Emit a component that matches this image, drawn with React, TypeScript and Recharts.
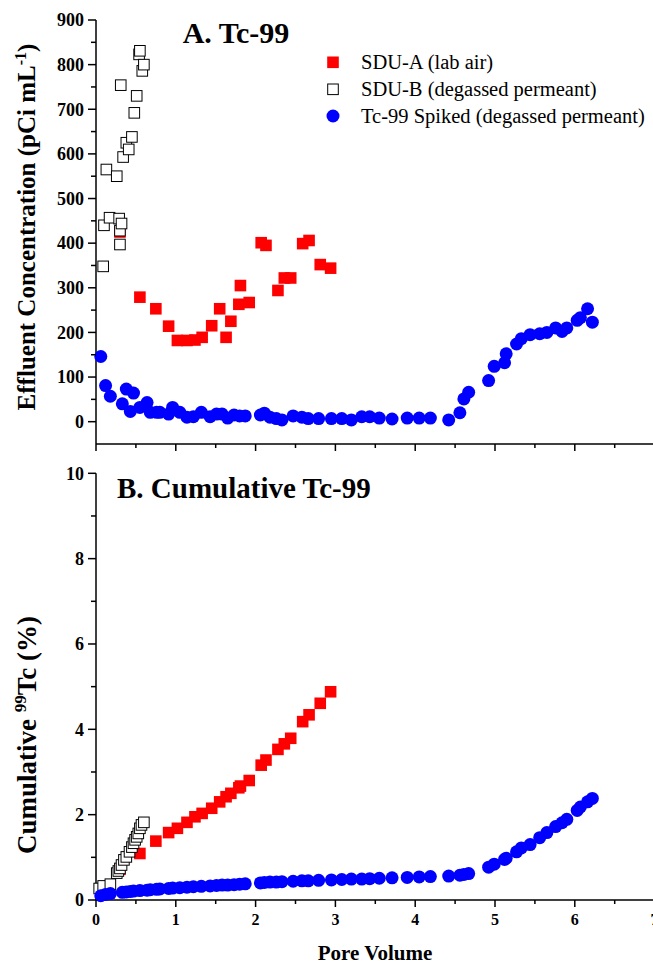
import React from 'react';
import { ScatterChart, Scatter, XAxis, YAxis } from 'recharts';

// ---------- tick values ----------
const xTicks = [0, 0.5, 1, 1.5, 2, 2.5, 3, 3.5, 4, 4.5, 5, 5.5, 6, 6.5, 7];
const concTicks = [0, 50, 100, 150, 200, 250, 300, 350, 400, 450, 500, 550, 600, 650, 700, 750, 800, 850, 900];
const cumTicks = [0, 1, 2, 3, 4, 5, 6, 7, 8, 9, 10];

// ---------- series names ----------
const seriesNames = ['SDU-A (lab air)', 'SDU-B (degassed permeant)', 'Tc-99 Spiked (degassed permeant)'];

// ---------- SDU-A (lab air) ----------
const sduAX = [0.30, 0.55, 0.75, 0.91, 1.02, 1.14, 1.24, 1.33, 1.45, 1.55, 1.63, 1.69, 1.79, 1.81, 1.92, 2.07, 2.13, 2.28, 2.36, 2.44, 2.59, 2.67, 2.81, 2.94];
const sduAConc = [425, 279, 253, 214, 182, 182, 183, 189, 215, 253, 189, 225, 263, 305, 267, 401, 395, 294, 322, 322, 399, 406, 352, 344];
const sduACum = [0.72, 1.09, 1.38, 1.58, 1.68, 1.82, 1.95, 2.03, 2.15, 2.30, 2.42, 2.50, 2.63, 2.67, 2.80, 3.16, 3.28, 3.53, 3.66, 3.79, 4.18, 4.34, 4.61, 4.88];

// ---------- SDU-B (degassed permeant) ----------
const sduBConcX = [0.09, 0.10, 0.13, 0.17, 0.26, 0.29, 0.30, 0.30, 0.31, 0.32, 0.34, 0.38, 0.41, 0.45, 0.48, 0.51, 0.54, 0.55, 0.58, 0.60];
const sduBConc = [348, 440, 565, 457, 550, 455, 397, 428, 754, 444, 593, 625, 610, 638, 692, 730, 823, 831, 786, 800];
const sduBCumX = [0.04, 0.09, 0.18, 0.26, 0.28, 0.30, 0.32, 0.35, 0.38, 0.42, 0.45, 0.47, 0.49, 0.51, 0.53, 0.55, 0.57, 0.60];
const sduBCum = [0.27, 0.33, 0.37, 0.63, 0.68, 0.74, 0.82, 0.94, 1.01, 1.13, 1.24, 1.33, 1.41, 1.48, 1.56, 1.68, 1.76, 1.82];

// ---------- Tc-99 Spiked (degassed permeant) ----------
const tcX = [0.06, 0.12, 0.18, 0.33, 0.38, 0.43, 0.47, 0.55, 0.64, 0.68, 0.76, 0.80, 0.91, 0.96, 1.05, 1.14, 1.22, 1.32, 1.43, 1.51, 1.58, 1.65, 1.73, 1.80, 1.87, 2.06, 2.11, 2.18, 2.26, 2.33, 2.47, 2.58, 2.66, 2.79, 2.95, 3.08, 3.20, 3.33, 3.43, 3.55, 3.71, 3.90, 4.05, 4.19, 4.42, 4.56, 4.61, 4.67, 4.92, 4.99, 5.12, 5.14, 5.27, 5.33, 5.44, 5.56, 5.65, 5.76, 5.84, 5.90, 6.03, 6.07, 6.16, 6.22];
const tcConc = [146, 81, 57, 40, 73, 23, 64, 32, 43, 21, 21, 21, 17, 32, 21, 10, 11, 21, 11, 17, 17, 8, 15, 13, 13, 15, 19, 10, 7, 4, 13, 10, 7, 7, 7, 7, 4, 11, 11, 8, 6, 8, 8, 8, 4, 20, 51, 66, 92, 124, 132, 152, 174, 186, 195, 197, 200, 210, 202, 210, 227, 233, 253, 223];
const tcCum = [0.10, 0.13, 0.15, 0.18, 0.19, 0.20, 0.21, 0.22, 0.23, 0.24, 0.25, 0.26, 0.27, 0.28, 0.29, 0.30, 0.31, 0.32, 0.33, 0.34, 0.35, 0.35, 0.36, 0.37, 0.38, 0.40, 0.41, 0.42, 0.42, 0.43, 0.44, 0.45, 0.45, 0.46, 0.47, 0.48, 0.49, 0.49, 0.50, 0.51, 0.52, 0.53, 0.54, 0.55, 0.56, 0.58, 0.60, 0.62, 0.77, 0.84, 0.95, 0.98, 1.13, 1.22, 1.30, 1.46, 1.58, 1.72, 1.81, 1.89, 2.10, 2.18, 2.30, 2.38];

const zip = (xs: number[], ys: number[]) => xs.map((x, i) => ({ x, y: ys[i] }));

const sduAConcData = zip(sduAX, sduAConc);
const sduACumData = zip(sduAX, sduACum);
const sduBConcData = zip(sduBConcX, sduBConc);
const sduBCumData = zip(sduBCumX, sduBCum);
const tcConcData = zip(tcX, tcConc);
const tcCumData = zip(tcX, tcCum);

const FONT = '"Liberation Serif", "Times New Roman", serif';
const RED = '#ff0000';
const BLUE = '#0000ff';

// ---------- marker shapes ----------
const RedSquare = (p: any) => (
  <rect x={p.cx - 5.8} y={p.cy - 5.8} width={11.6} height={11.6} fill={RED} />
);
const OpenSquare = (p: any) => (
  <rect x={p.cx - 5.3} y={p.cy - 5.3} width={10.6} height={10.6} fill="#fff" stroke="#000" strokeWidth={1} />
);
const BlueCircle = (p: any) => <circle cx={p.cx} cy={p.cy} r={6.5} fill={BLUE} />;

// ---------- ticks ----------
const XTick = (p: any) => {
  const v = p.payload.value;
  const major = Math.abs(v - Math.round(v)) < 1e-6;
  return (
    <g>
      <line x1={p.x} y1={p.y} x2={p.x} y2={p.y + (major ? 7 : 4)} stroke="#000" strokeWidth={1.5} />
      {p.showLabel && major ? (
        <text x={p.x} y={p.y + 25} textAnchor="middle" fontFamily={FONT} fontWeight="bold" fontSize={16} fill="#000">
          {v}
        </text>
      ) : null}
    </g>
  );
};

const YTick = (p: any) => {
  const v = p.payload.value;
  const major = Math.abs(v / p.step - Math.round(v / p.step)) < 1e-6;
  return (
    <g>
      <line x1={p.x - (major ? 8 : 5)} y1={p.y} x2={p.x} y2={p.y} stroke="#000" strokeWidth={1.5} />
      {major ? (
        <text x={p.x - 12} y={p.y} dy="0.35em" textAnchor="end" fontFamily={FONT} fontWeight="bold" fontSize={18} fill="#000">
          {v}
        </text>
      ) : null}
    </g>
  );
};

const axisLine = { stroke: '#000', strokeWidth: 1.5 };

export default function App() {
  return (
    <div style={{ position: 'absolute', left: 0, top: 0, width: 653, height: 964, overflow: 'hidden', background: '#fff' }}>
      {/* Panel A */}
      <div style={{ position: 'absolute', left: 0, top: 0 }}>
        <ScatterChart width={660} height={460} margin={{ top: 20, right: 5.4, left: 0, bottom: 0 }}>
          <XAxis
            type="number"
            dataKey="x"
            domain={[0, 7]}
            ticks={xTicks}
            interval={0}
            tickSize={0}
            tickMargin={0}
            tickLine={false}
            axisLine={axisLine}
            height={16}
            tick={(p: any) => <XTick {...p} showLabel={false} />}
          />
          <YAxis
            type="number"
            dataKey="y"
            domain={[-50, 900]}
            ticks={concTicks}
            interval={0}
            tickSize={0}
            tickMargin={0}
            tickLine={false}
            axisLine={axisLine}
            width={96}
            tick={(p: any) => <YTick {...p} step={100} />}
          />
          <Scatter name={seriesNames[0]} data={sduAConcData} shape={RedSquare} isAnimationActive={false} />
          <Scatter name={seriesNames[1]} data={sduBConcData} shape={OpenSquare} isAnimationActive={false} />
          <Scatter name={seriesNames[2]} data={tcConcData} shape={BlueCircle} isAnimationActive={false} />
        </ScatterChart>
      </div>

      {/* Panel B */}
      <div style={{ position: 'absolute', left: 0, top: 460 }}>
        <ScatterChart width={660} height={504} margin={{ top: 13.3, right: 5.4, left: 0, bottom: 0 }}>
          <XAxis
            type="number"
            dataKey="x"
            domain={[0, 7]}
            ticks={xTicks}
            interval={0}
            tickSize={0}
            tickMargin={0}
            tickLine={false}
            axisLine={axisLine}
            height={64}
            tick={(p: any) => <XTick {...p} showLabel={true} />}
          />
          <YAxis
            type="number"
            dataKey="y"
            domain={[0, 10]}
            ticks={cumTicks}
            interval={0}
            tickSize={0}
            tickMargin={0}
            tickLine={false}
            axisLine={axisLine}
            width={96}
            tick={(p: any) => <YTick {...p} step={2} />}
          />
          <Scatter name={seriesNames[0]} data={sduACumData} shape={RedSquare} isAnimationActive={false} />
          <Scatter name={seriesNames[1]} data={sduBCumData} shape={OpenSquare} isAnimationActive={false} />
          <Scatter name={seriesNames[2]} data={tcCumData} shape={BlueCircle} isAnimationActive={false} />
        </ScatterChart>
      </div>

      {/* Text overlay: titles, axis labels, legend */}
      <svg width={653} height={964} style={{ position: 'absolute', left: 0, top: 0, pointerEvents: 'none' }} fontFamily={FONT}>
        <text x={236} y={43} textAnchor="middle" fontWeight="bold" fontSize={30} fill="#000">A. Tc-99</text>
        <text x={117} y={498} textAnchor="start" fontWeight="bold" fontSize={29} fill="#000">B. Cumulative Tc-99</text>

        <text transform="translate(35,227) rotate(-90)" textAnchor="middle" fontWeight="bold" fontSize={25} fill="#000">
          Effluent Concentration (pCi mL<tspan dy={-9} fontSize={16}>-1</tspan><tspan dy={9}>)</tspan>
        </text>
        <text transform="translate(36,735) rotate(-90)" textAnchor="middle" fontWeight="bold" fontSize={27} fill="#000">
          Cumulative <tspan dy={-10} fontSize={17}>99</tspan><tspan dy={10}>Tc (%)</tspan>
        </text>
        <text x={375} y={960} textAnchor="middle" fontWeight="bold" fontSize={21} fill="#000">Pore Volume</text>

        {/* legend */}
        <rect x={327.2} y={56.5} width={11.6} height={11.6} fill={RED} />
        <text x={361} y={69} fontSize={20.5} fill="#000">{seriesNames[0]}</text>
        <rect x={327.7} y={84} width={10.6} height={10.6} fill="#fff" stroke="#000" strokeWidth={1} />
        <text x={361} y={96} fontSize={20.5} fill="#000">{seriesNames[1]}</text>
        <circle cx={333} cy={116} r={6.5} fill={BLUE} />
        <text x={361} y={123} fontSize={20.5} fill="#000">{seriesNames[2]}</text>
      </svg>
    </div>
  );
}
